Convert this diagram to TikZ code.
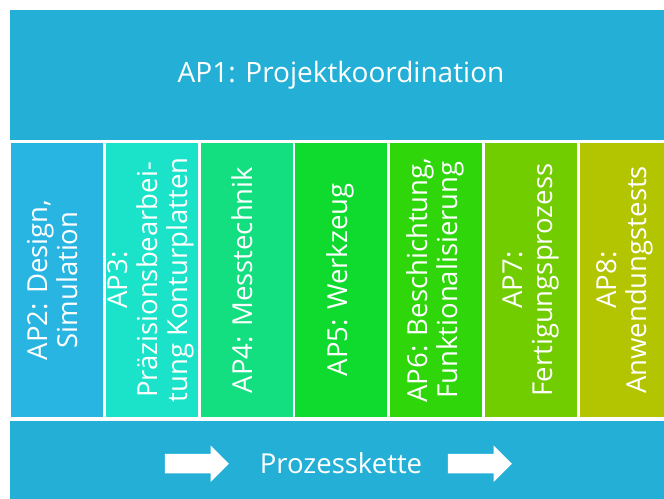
\documentclass[tikz,border=0pt]{standalone}
\usepackage{fontspec}
\setmainfont{Open Sans}
\usetikzlibrary{shapes.arrows}
\definecolor{barblue}{RGB}{36,176,214}
\definecolor{apone}{RGB}{40,181,225}
\definecolor{aptwo}{RGB}{27,227,201}
\definecolor{apthree}{RGB}{19,223,128}
\definecolor{apfour}{RGB}{15,218,46}
\definecolor{apfive}{RGB}{46,214,10}
\definecolor{apsix}{RGB}{113,204,0}
\definecolor{apseven}{RGB}{179,196,0}
\newcommand{\vtext}[1]{\rotatebox{90}{\begin{tabular}{@{}c@{}}#1\end{tabular}}}

\begin{document}
\begin{tikzpicture}[x=1pt, y=1pt, node distance=94.8pt,
    bar/.style={fill=barblue, minimum width=662pt, inner sep=0pt, text=white},
    ap/.style={minimum width=92pt, minimum height=274pt, inner sep=0pt, text=white, font=\fontsize{27.5}{30}\selectfont},
    pfeil/.style={single arrow, fill=white, minimum height=64pt, inner xsep=0pt, inner ysep=9.5pt, single arrow head extend=8.5pt}]
    \useasboundingbox (0,0) rectangle (664,498);
    \clip (0,0) rectangle (664,498);
    \node[bar, minimum height=130pt, font=\fontsize{28}{30}\selectfont] (ap1) at (341,423) {AP1: Projektkoordination};
    \node[ap, fill=apone] (ap2) at (57,218) {\vtext{AP2: Design,\\Simulation}};
    \node[ap, fill=aptwo, right of=ap2] (ap3) {\vtext{AP3:\\Präzisionsbearbei-\\tung Konturplatten}};
    \node[ap, fill=apthree, right of=ap3] (ap4) {\vtext{AP4: Messtechnik}};
    \node[ap, fill=apfour, right of=ap4] (ap5) {\vtext{AP5: Werkzeug}};
    \node[ap, fill=apfive, right of=ap5] (ap6) {\vtext{AP6: Beschichtung,\\Funktionalisierung}};
    \node[ap, fill=apsix, right of=ap6] (ap7) {\vtext{AP7:\\Fertigungsprozess}};
    \node[ap, fill=apseven, right of=ap7] (ap8) {\vtext{AP8:\\Anwendungstests}};
    \node[bar, minimum height=82pt] (kette) at (341,36) {};
    \node[text=white, font=\fontsize{27.5}{30}\selectfont, anchor=base] (pk) at (341,24) {Prozesskette};
    \node[pfeil, left of=pk, node distance=149pt] (pf1) {};
    \node[pfeil, right of=pk, node distance=134pt] (pf2) {};
\end{tikzpicture}
\end{document}
